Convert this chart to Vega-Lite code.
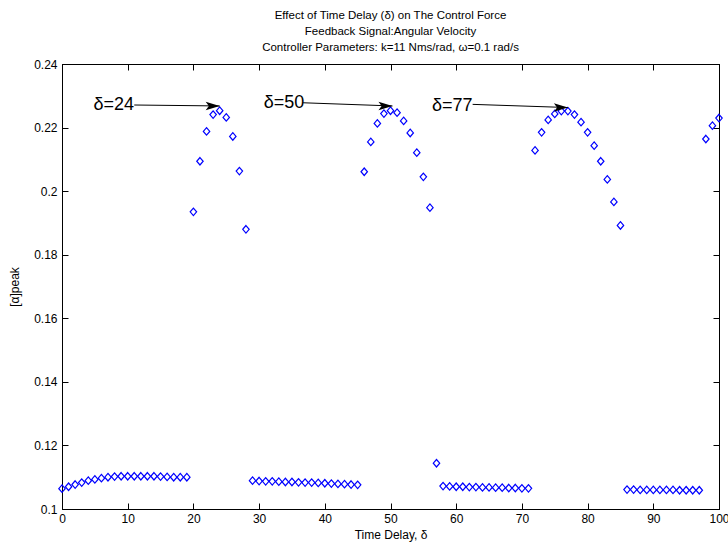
{
  "$schema": "https://vega.github.io/schema/vega-lite/v6.json",
  "width": 657,
  "height": 445,
  "autosize": "none",
  "padding": {"left": 62, "top": 64, "right": 9, "bottom": 37},
  "background": "white",
  "config": {
    "font": "Liberation Sans",
    "view": {"stroke": "black", "strokeWidth": 1},
    "axis": {
      "grid": false,
      "domainColor": "black",
      "tickColor": "black",
      "labelColor": "black",
      "titleColor": "black",
      "labelFont": "Liberation Sans",
      "titleFont": "Liberation Sans",
      "titleFontWeight": "normal",
      "labelFontSize": 12,
      "titleFontSize": 12,
      "tickSize": -6,
      "domainWidth": 1,
      "tickWidth": 1
    }
  },
  "title": {
    "text": [
      "Effect of Time Delay (δ)  on The Control Force",
      "Feedback Signal:Angular Velocity",
      "Controller Parameters: k=11 Nms/rad, ω=0.1 rad/s"
    ],
    "font": "Liberation Sans",
    "fontSize": 11.5,
    "fontWeight": "normal",
    "color": "black",
    "lineHeight": 16,
    "anchor": "middle",
    "offset": 5
  },
  "datasets": {
    "peaks": [
      {"delay": 0, "peak": 0.1064}, {"delay": 1, "peak": 0.1070}, {"delay": 2, "peak": 0.1077},
      {"delay": 3, "peak": 0.1083}, {"delay": 4, "peak": 0.1089}, {"delay": 5, "peak": 0.1093},
      {"delay": 6, "peak": 0.1097}, {"delay": 7, "peak": 0.1100}, {"delay": 8, "peak": 0.1102},
      {"delay": 9, "peak": 0.1103}, {"delay": 10, "peak": 0.1103}, {"delay": 11, "peak": 0.1103},
      {"delay": 12, "peak": 0.1103}, {"delay": 13, "peak": 0.1103}, {"delay": 14, "peak": 0.1103},
      {"delay": 15, "peak": 0.1102}, {"delay": 16, "peak": 0.1101}, {"delay": 17, "peak": 0.1100},
      {"delay": 18, "peak": 0.1100}, {"delay": 19, "peak": 0.1100},
      {"delay": 20, "peak": 0.1935}, {"delay": 21, "peak": 0.2094}, {"delay": 22, "peak": 0.2188},
      {"delay": 23, "peak": 0.2241}, {"delay": 24, "peak": 0.2253}, {"delay": 25, "peak": 0.2232},
      {"delay": 26, "peak": 0.2172}, {"delay": 27, "peak": 0.2063}, {"delay": 28, "peak": 0.1880},
      {"delay": 29, "peak": 0.1089}, {"delay": 30, "peak": 0.1088}, {"delay": 31, "peak": 0.1087},
      {"delay": 32, "peak": 0.1087}, {"delay": 33, "peak": 0.1086}, {"delay": 34, "peak": 0.1085},
      {"delay": 35, "peak": 0.1085}, {"delay": 36, "peak": 0.1084}, {"delay": 37, "peak": 0.1083},
      {"delay": 38, "peak": 0.1083}, {"delay": 39, "peak": 0.1082}, {"delay": 40, "peak": 0.1081},
      {"delay": 41, "peak": 0.1080}, {"delay": 42, "peak": 0.1079}, {"delay": 43, "peak": 0.1078},
      {"delay": 44, "peak": 0.1077}, {"delay": 45, "peak": 0.1076},
      {"delay": 46, "peak": 0.2061}, {"delay": 47, "peak": 0.2155}, {"delay": 48, "peak": 0.2213},
      {"delay": 49, "peak": 0.2244}, {"delay": 50, "peak": 0.2253}, {"delay": 51, "peak": 0.2247},
      {"delay": 52, "peak": 0.2221}, {"delay": 53, "peak": 0.2183}, {"delay": 54, "peak": 0.2121},
      {"delay": 55, "peak": 0.2045}, {"delay": 56, "peak": 0.1948},
      {"delay": 57, "peak": 0.1144},
      {"delay": 58, "peak": 0.1072}, {"delay": 59, "peak": 0.1071}, {"delay": 60, "peak": 0.1070},
      {"delay": 61, "peak": 0.1070}, {"delay": 62, "peak": 0.1069}, {"delay": 63, "peak": 0.1069},
      {"delay": 64, "peak": 0.1068}, {"delay": 65, "peak": 0.1068}, {"delay": 66, "peak": 0.1067},
      {"delay": 67, "peak": 0.1067}, {"delay": 68, "peak": 0.1066}, {"delay": 69, "peak": 0.1066},
      {"delay": 70, "peak": 0.1065}, {"delay": 71, "peak": 0.1065},
      {"delay": 72, "peak": 0.2128}, {"delay": 73, "peak": 0.2185}, {"delay": 74, "peak": 0.2224},
      {"delay": 75, "peak": 0.2243}, {"delay": 76, "peak": 0.2252}, {"delay": 77, "peak": 0.2252},
      {"delay": 78, "peak": 0.2241}, {"delay": 79, "peak": 0.2217}, {"delay": 80, "peak": 0.2185},
      {"delay": 81, "peak": 0.2143}, {"delay": 82, "peak": 0.2094}, {"delay": 83, "peak": 0.2037},
      {"delay": 84, "peak": 0.1966}, {"delay": 85, "peak": 0.1892},
      {"delay": 86, "peak": 0.1061}, {"delay": 87, "peak": 0.1061}, {"delay": 88, "peak": 0.1060},
      {"delay": 89, "peak": 0.1060}, {"delay": 90, "peak": 0.1060}, {"delay": 91, "peak": 0.1060},
      {"delay": 92, "peak": 0.1060}, {"delay": 93, "peak": 0.1060}, {"delay": 94, "peak": 0.1059},
      {"delay": 95, "peak": 0.1059}, {"delay": 96, "peak": 0.1059}, {"delay": 97, "peak": 0.1059},
      {"delay": 98, "peak": 0.2164}, {"delay": 99, "peak": 0.2206}, {"delay": 100, "peak": 0.2230}
    ],
    "callouts": [
      {"label": "δ=24", "tx": 4.8, "ty": 0.2270, "x0": 11.0, "y0": 0.2271, "x1": 24.0, "y1": 0.2268},
      {"label": "δ=50", "tx": 30.7, "ty": 0.2278, "x0": 36.7, "y0": 0.2278, "x1": 50.3, "y1": 0.2268},
      {"label": "δ=77", "tx": 56.3, "ty": 0.2267, "x0": 62.5, "y0": 0.2273, "x1": 77.0, "y1": 0.2263}
    ]
  },
  "layer": [
    {
      "data": {"name": "peaks"},
      "mark": {
        "type": "point",
        "shape": "M0,-1L0.86,0L0,1L-0.86,0Z",
        "size": 56,
        "filled": false,
        "stroke": "#0000ff",
        "strokeWidth": 1.2,
        "opacity": 1,
        "clip": false
      },
      "encoding": {
        "x": {
          "field": "delay",
          "type": "quantitative",
          "scale": {"domain": [0, 100], "nice": false, "zero": false},
          "axis": {
            "orient": "bottom",
            "title": "Time Delay, δ",
            "values": [0, 10, 20, 30, 40, 50, 60, 70, 80, 90, 100],
            "labelPadding": 10,
            "titlePadding": 5,
            "labelFlush": false,
            "labelOverlap": false
          }
        },
        "y": {
          "field": "peak",
          "type": "quantitative",
          "scale": {"domain": [0.1, 0.24], "nice": false, "zero": false},
          "axis": {
            "orient": "left",
            "title": "[α]peak",
            "format": ".2~f",
            "values": [0.1, 0.12, 0.14, 0.16, 0.18, 0.2, 0.22, 0.24],
            "labelPadding": 11,
            "titlePadding": 12,
            "labelFlush": false,
            "labelOverlap": false
          }
        }
      }
    },
    {
      "data": {"name": "callouts"},
      "mark": {"type": "rule", "color": "black", "strokeWidth": 1},
      "encoding": {
        "x": {
          "field": "x0",
          "type": "quantitative",
          "axis": {
            "orient": "top",
            "labels": false,
            "title": null,
            "values": [0, 10, 20, 30, 40, 50, 60, 70, 80, 90, 100]
          }
        },
        "x2": {"field": "x1"},
        "y": {
          "field": "y0",
          "type": "quantitative",
          "axis": {
            "orient": "right",
            "labels": false,
            "title": null,
            "values": [0.1, 0.12, 0.14, 0.16, 0.18, 0.2, 0.22, 0.24]
          }
        },
        "y2": {"field": "y1"}
      }
    },
    {
      "data": {"name": "callouts"},
      "mark": {
        "type": "point",
        "shape": "M0,0L-2,-0.6L-1.55,0L-2,0.6Z",
        "size": 196,
        "filled": true,
        "color": "black",
        "opacity": 1,
        "strokeWidth": 0
      },
      "encoding": {
        "x": {"field": "x1", "type": "quantitative", "axis": null},
        "y": {"field": "y1", "type": "quantitative", "axis": null}
      }
    },
    {
      "data": {"name": "callouts"},
      "mark": {
        "type": "text",
        "align": "left",
        "baseline": "middle",
        "font": "Liberation Sans",
        "fontSize": 18,
        "color": "black"
      },
      "encoding": {
        "x": {"field": "tx", "type": "quantitative", "axis": null},
        "y": {"field": "ty", "type": "quantitative", "axis": null},
        "text": {"field": "label"}
      }
    }
  ],
  "resolve": {"axis": {"x": "independent", "y": "independent"}}
}
